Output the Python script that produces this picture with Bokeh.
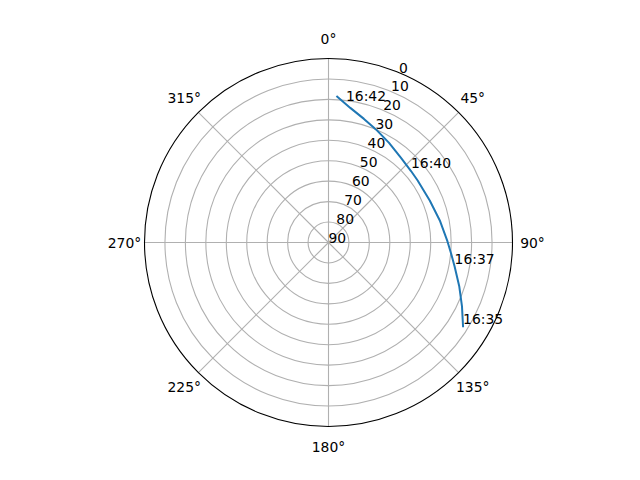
import numpy as np
from bokeh.plotting import figure
from bokeh.models import Range1d
from bokeh.embed import file_html
from bokeh.resources import INLINE
from bokeh.core.properties import value

# Satellite pass: azimuth (deg, clockwise from north) and elevation (deg)
azimuth = [122.2, 115.6, 108.6, 100.8, 95.1, 89.5, 78.8, 67.5, 55.2, 49.1,
           40.6, 31.3, 23.5, 16.0, 9.2, 7.2, 3.1]
elevation = [12.2, 17.6, 22.5, 27.2, 29.8, 31.8, 34.5, 36.4, 36.9, 36.6,
             35.5, 33.0, 30.3, 27.1, 23.3, 21.8, 18.2]

# Time annotations along the track
label_times = ["16:35", "16:37", "16:40", "16:42"]
label_az = [122.2, 100.8, 49.1, 7.2]
label_el = [12.2, 27.2, 36.6, 21.8]

# Axis ticks
r_ticks = [0, 10, 20, 30, 40, 50, 60, 70, 80, 90]
theta_ticks = [0, 45, 90, 135, 180, 225, 270, 315]
theta_labels = ["0°", "45°", "90°", "135°", "180°", "225°", "270°", "315°"]
r_label_angle = 22.5

FONT = "DejaVu Sans"
FSIZE = "13.9px"
PX = 184.0  # pixels per unit radius
W, H = 624, 464
CX, CY = 328, 242  # center in figure pixels


def to_xy(az, el):
    az = np.radians(np.asarray(az, dtype=float))
    r = (90.0 - np.asarray(el, dtype=float)) / 90.0
    return r * np.sin(az), r * np.cos(az)


p = figure(width=W, height=H, output_backend="svg", toolbar_location=None,
           x_range=Range1d(-CX / PX, (W - CX) / PX),
           y_range=Range1d(-(H - CY) / PX, CY / PX),
           x_axis_type=None, y_axis_type=None, min_border=0)
p.grid.visible = False
p.outline_line_color = None
p.background_fill_color = "white"
p.border_fill_color = "white"

# radial grid lines
ang = np.radians(theta_ticks)
p.multi_line(xs=[[0, np.sin(a)] for a in ang], ys=[[0, np.cos(a)] for a in ang],
             line_color="#b0b0b0", line_width=1.1)

# grid circles
circ_r = [(90 - v) / 90.0 for v in r_ticks if 0 < v < 90]
p.circle(x=[0] * len(circ_r), y=[0] * len(circ_r), radius=circ_r,
         fill_color=None, line_color="#b0b0b0", line_width=1.1)

# outer spine
p.circle(x=[0], y=[0], radius=[1.0], fill_color=None, line_color="black", line_width=1.1)

# radial tick labels
rx, ry = to_xy([r_label_angle] * len(r_ticks), r_ticks)
p.text(x=rx, y=ry, text=[str(v) for v in r_ticks], text_font=value(FONT),
       text_font_size=FSIZE, text_align="left", text_baseline="bottom", text_color="black")

# angular tick labels
tr = 204.0 / PX
p.text(x=list(tr * np.sin(ang)), y=list(tr * np.cos(ang)), text=theta_labels,
       text_font=value(FONT), text_font_size=FSIZE, text_align="center",
       text_baseline="middle", text_color="black")

# track
lx, ly = to_xy(azimuth, elevation)
p.line(x=lx, y=ly, line_color="#1f77b4", line_width=2.0, line_join="round")

# time labels
tx, ty = to_xy(label_az, label_el)
p.text(x=tx, y=ty, text=label_times, text_font=value(FONT), text_font_size=FSIZE,
       text_align="left", text_baseline="bottom", text_color="black")

open("out.html", "w").write(file_html(p, INLINE))
